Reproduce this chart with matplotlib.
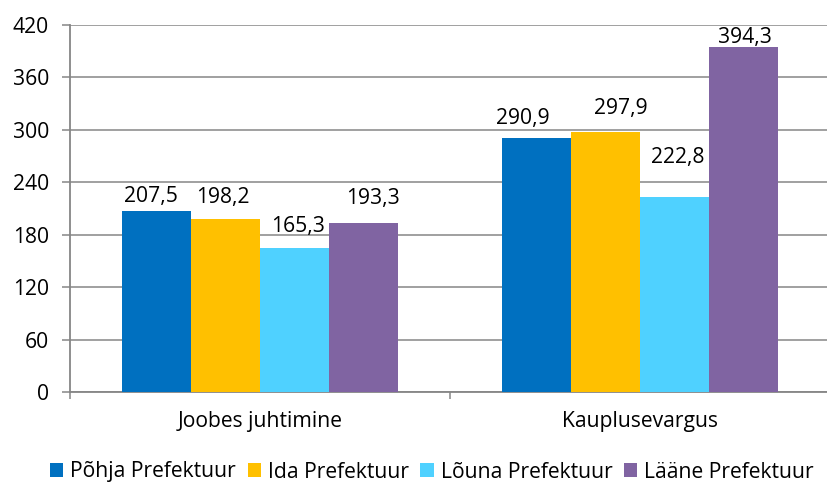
import matplotlib
matplotlib.use("Agg")
import matplotlib.pyplot as plt
from matplotlib.patches import Patch
import numpy as np

categories = ["Joobes juhtimine", "Kauplusevargus"]
series_names = ["Põhja Prefektuur", "Ida Prefektuur", "Lõuna Prefektuur", "Lääne Prefektuur"]
pohja = [207.5, 290.9]
ida = [198.2, 297.9]
louna = [165.3, 222.8]
laane = [193.3, 394.3]
y_ticks = [0, 60, 120, 180, 240, 300, 360, 420]

series_values = [pohja, ida, louna, laane]
colors = ["#0070C0", "#FFC000", "#4FD1FF", "#8064A2"]
# label offsets in pixels (dx, dy) from bar top-centre, to mimic manual placement
label_offsets = [
    [(-5.5, 9), (-14, 14)],
    [(-2.6, 16), (15, 18)],
    [(4, 16), (3, 34)],
    [(9, 19), (1, 4)],
]

plt.rcParams['font.family'] = ['Open Sans', 'DejaVu Sans']
FS = 15.2
W, H = 827, 484
fig = plt.figure(figsize=(W / 100, H / 100), dpi=100)
ax = fig.add_axes([70 / W, (H - 392) / H, 760 / W, 367 / H])

x = np.arange(len(categories))
bw = 1 / 5.5
for i, (vals, col) in enumerate(zip(series_values, colors)):
    xs = x + (i - 1.5) * bw
    ax.bar(xs, vals, width=bw, color=col, zorder=3, linewidth=0)
    for j, (xx, v) in enumerate(zip(xs, vals)):
        dx, dy = label_offsets[i][j]
        lab = f"{v:.1f}".replace(".", ",")
        ax.annotate(lab, xy=(xx, v), xytext=(dx * 0.72, dy * 0.72),
                    textcoords="offset points", ha="center", va="baseline",
                    fontsize=FS, color="black", zorder=4)

gray = "#868686"
ax.set_xlim(-0.5, len(categories) - 0.5)
ax.set_ylim(0, 420)
ax.set_yticks(y_ticks)
ax.set_yticklabels([str(t) for t in y_ticks], fontsize=FS)
ax.yaxis.grid(True, color=gray, linewidth=1.1, zorder=0)
ax.set_axisbelow(True)
ax.set_xticks(x)
ax.set_xticklabels(categories, fontsize=FS)
ax.set_xticks(np.arange(-0.5, len(categories), 1.0), minor=True)
ax.tick_params(axis='x', which='major', length=0, pad=14)
ax.tick_params(axis='x', which='minor', length=5, width=1.1, color=gray, direction='out')
ax.tick_params(axis='y', length=6, width=1.1, color=gray, direction='out', pad=9)
for s in ["top", "right"]:
    ax.spines[s].set_visible(False)
for s in ["left", "bottom"]:
    ax.spines[s].set_color(gray)
    ax.spines[s].set_linewidth(1.3)

handles = [Patch(facecolor=c, edgecolor='none') for c in colors]
fig.legend(handles, series_names, loc="center", bbox_to_anchor=(432 / W, (H - 472) / H),
           ncol=4, frameon=False, fontsize=FS, handlelength=0.62, handleheight=0.62,
           handletextpad=0.33, columnspacing=0.55, borderpad=0)

fig.savefig("out.png", dpi=100, facecolor="white")
